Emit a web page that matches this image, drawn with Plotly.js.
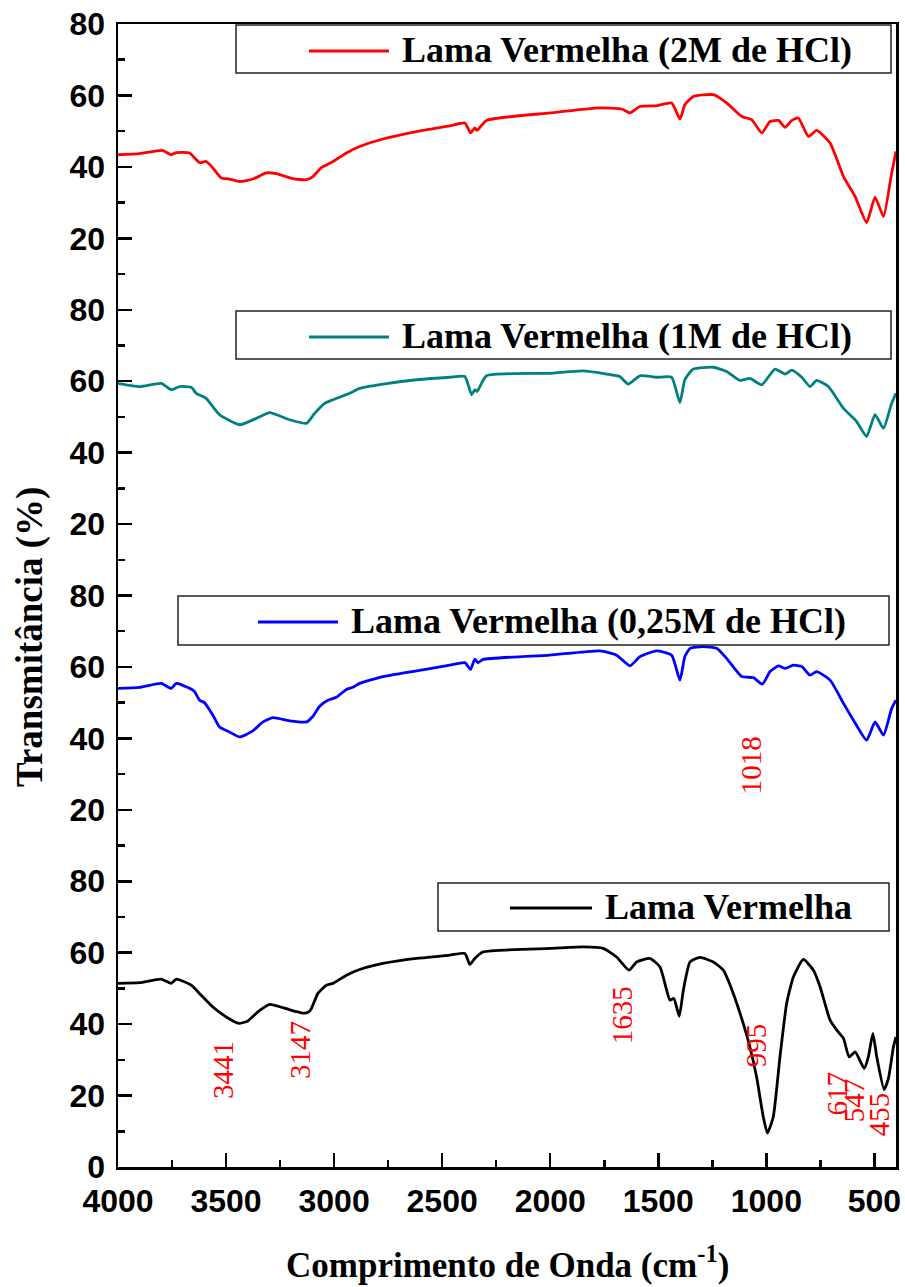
<!DOCTYPE html>
<html>
<head>
<meta charset="utf-8">
<script src="https://cdn.plot.ly/plotly-3.0.1.min.js"></script>
<style>
  html, body { margin: 0; padding: 0; background: #fff; }
  #chart { width: 905px; height: 1287px; }
</style>
</head>
<body>
<div id="chart"></div>
<script>
// FTIR spectra of red mud (lama vermelha), raw and acid-treated samples.
// Each spectrum is stacked on a shared transmittance axis with an 80 % step.

const seriesNames = [
  'Lama Vermelha (2M de HCl)',
  'Lama Vermelha (1M de HCl)',
  'Lama Vermelha (0,25M de HCl)',
  'Lama Vermelha'
];
const seriesColors = ['#FF0000', '#008080', '#0000FF', '#000000'];
const seriesOffsets = [240, 160, 80, 0];

// Lama Vermelha (2M de HCl)
const hcl2X = [4000,3900,3795,3754,3730,3669,3623,3592,3561,3522,3484,3437,3376,3314,3267,3191,3128,3098,3059,3005,2943,2882,2774,2619,2465,2395,2369,2349,2339,2295,2002,1770,1670,1631,1585,1508,1438,1400,1377,1338,1245,1184,1114,1068,1021,983,944,913,882,852,805,767,705,643,589,536,497,458,420,400];
const hcl2T = [43.4,43.7,44.6,43.4,44.0,43.9,41.2,41.5,39.7,36.9,36.6,35.9,36.6,38.3,38.1,36.7,36.4,37.3,39.8,41.5,43.9,45.7,47.8,49.9,51.5,52.3,49.5,50.9,50.2,53.0,55.1,56.5,56.2,55.1,56.9,57.1,57.9,53.4,57.4,59.7,60.2,57.9,54.1,53.2,49.5,52.7,53.0,51.1,53.0,53.7,48.5,50.2,46.7,37.3,31.7,24.4,31.5,26.1,38.3,44.3];

// Lama Vermelha (1M de HCl)
const hcl1X = [4000,3900,3800,3754,3715,3661,3638,3592,3530,3437,3360,3298,3206,3128,3090,3044,3005,2928,2882,2774,2619,2465,2395,2364,2349,2339,2295,2002,1848,1739,1678,1639,1585,1508,1438,1400,1377,1338,1245,1184,1122,1076,1021,960,913,882,836,798,767,713,643,582,536,497,458,420,400];
const hcl1T = [59.4,58.5,59.4,57.6,58.5,58.3,56.6,55.2,50.6,47.8,49.6,51.2,49.2,48.2,51.0,53.8,54.8,56.6,58.0,59.2,60.4,61.1,61.3,56.2,57.6,57.1,61.5,62.2,62.9,62.0,61.3,59.2,61.5,61.1,61.1,54.0,60.4,63.4,63.9,62.7,60.2,60.8,59.0,63.4,62.0,63.1,61.1,58.5,60.2,58.5,52.4,48.7,44.5,50.6,46.8,53.8,56.6];

// Lama Vermelha (0,25M de HCl)
const hcl025X = [4000,3900,3800,3754,3730,3669,3646,3623,3600,3561,3530,3484,3437,3376,3329,3283,3206,3128,3098,3067,3029,2990,2943,2913,2882,2774,2619,2465,2395,2369,2349,2334,2311,2002,1770,1693,1631,1585,1508,1438,1400,1377,1353,1292,1230,1184,1114,1060,1018,983,944,913,875,836,798,767,705,643,597,536,497,458,420,400];
const hcl025T = [54.0,54.3,55.4,54.0,55.4,54.0,53.1,50.7,50.0,46.5,43.2,41.8,40.4,42.1,44.6,45.8,44.9,44.6,46.2,49.0,50.7,51.5,53.7,54.3,55.4,57.3,58.9,60.5,61.2,59.3,62.2,61.2,62.1,63.3,64.5,63.3,60.3,62.9,64.5,63.3,56.3,62.9,65.2,65.7,65.2,62.4,57.3,57.0,55.2,58.7,60.3,59.6,60.5,60.1,57.7,58.7,56.3,49.8,45.1,39.5,44.6,40.9,48.4,50.7];

// Lama Vermelha (untreated)
const rawX = [4000,3900,3800,3754,3730,3661,3623,3561,3499,3441,3399,3353,3298,3237,3175,3147,3120,3105,3075,3036,3005,2943,2882,2774,2619,2465,2395,2372,2349,2312,2002,1848,1755,1693,1635,1600,1539,1492,1446,1428,1403,1384,1353,1307,1245,1199,1153,1107,1076,1045,1014,995,968,937,906,875,829,782,751,705,674,643,617,589,547,528,507,489,455,435,412,400];
const rawT = [51.4,51.6,52.6,51.4,52.6,50.9,48.6,44.8,42.0,40.2,40.9,43.4,45.5,44.6,43.5,43.1,43.3,44.4,48.6,50.9,51.4,53.7,55.3,57.0,58.4,59.3,59.8,56.7,58.4,60.2,61.2,61.6,61.2,58.8,55.1,57.4,58.4,56.0,46.7,47.2,42.2,49.5,57.4,58.7,57.4,55.1,48.6,40.2,33.6,25.2,14.0,9.5,14.0,30.8,45.8,53.2,58.1,55.1,50.4,41.1,38.3,36.0,30.8,32.2,27.6,30.8,37.4,30.8,21.7,24.8,33.6,36.4];

const seriesX = [hcl2X, hcl1X, hcl025X, rawX];
const seriesT = [hcl2T, hcl1T, hcl025T, rawT];

// Band assignments marked on the spectra
const bandWavenumbers = [3441, 3147, 1635, 995, 617, 547, 455, 1018];
const bandSeries = [3, 3, 3, 3, 3, 3, 3, 2];
// where each band label is written (wavenumber, transmittance in its panel)
const bandLabelX = [3511, 3159, 1668, 1048, 673, 594, 478, 1071];
const bandLabelT = [27.1, 32.7, 42.5, 34.1, 20.6, 18.7, 14.8, 32.5];

// Axis ticks
const xTickVals = [4000, 3500, 3000, 2500, 2000, 1500, 1000, 500];
const xTickText = ['4000', '3500', '3000', '2500', '2000', '1500', '1000', '500'];
const yTickVals = [0, 20, 40, 60, 80, 100, 120, 140, 160, 180, 200, 220, 240, 260, 280, 300, 320];
const yTickText = ['0', '20', '40', '60', '80', '20', '40', '60', '80', '20', '40', '60', '80', '20', '40', '60', '80'];

// ---- drawing ----
const W = 905, H = 1287;
const M = { l: 118, r: 9, t: 24, b: 120 };
const plotW = W - M.l - M.r, plotH = H - M.t - M.b;
const px2x = px => (px - M.l) / plotW;
const px2y = py => (H - M.b - py) / plotH;

const serif = 'Liberation Serif, Times New Roman, serif';
const sans = 'Liberation Sans, Arial, sans-serif';

const traces = seriesNames.map((name, i) => ({
  type: 'scatter',
  mode: 'lines',
  name: name,
  x: seriesX[i],
  y: seriesT[i].map(v => v + seriesOffsets[i]),
  line: { color: seriesColors[i], width: 2.8, shape: 'spline', smoothing: 0.5 },
  showlegend: false,
  hoverinfo: 'x+name'
}));

// Legend boxes, one per panel (pixel geometry)
const legendBoxes = [
  { x0: 236, x1: 891, y0: 25,  y1: 73,  lx0: 309, lx1: 389, ly: 51,  tx: 400 },
  { x0: 236, x1: 891, y0: 311, y1: 359, lx0: 309, lx1: 389, ly: 337, tx: 400 },
  { x0: 178, x1: 889, y0: 596, y1: 645, lx0: 258, lx1: 338, ly: 622, tx: 349 },
  { x0: 438, x1: 889, y0: 883, y1: 931, lx0: 510, lx1: 592, ly: 908, tx: 603 }
];

const shapes = [];
const annotations = [];
legendBoxes.forEach((b, i) => {
  shapes.push({
    type: 'rect', xref: 'paper', yref: 'paper',
    x0: px2x(b.x0), x1: px2x(b.x1), y0: px2y(b.y1), y1: px2y(b.y0),
    line: { color: '#222', width: 1.5 }, fillcolor: 'rgba(0,0,0,0)'
  });
  shapes.push({
    type: 'line', xref: 'paper', yref: 'paper',
    x0: px2x(b.lx0), x1: px2x(b.lx1), y0: px2y(b.ly), y1: px2y(b.ly),
    line: { color: seriesColors[i], width: 2.8 }
  });
  annotations.push({
    xref: 'paper', yref: 'paper', x: px2x(b.tx), y: px2y(b.ly - 1),
    xanchor: 'left', yanchor: 'middle', showarrow: false,
    text: seriesNames[i],
    font: { family: serif, size: 36, weight: 'bold', color: '#000' }
  });
});

bandWavenumbers.forEach((wn, i) => {
  annotations.push({
    xref: 'x', yref: 'y',
    x: bandLabelX[i], y: bandLabelT[i] + seriesOffsets[bandSeries[i]],
    text: String(wn), textangle: -90, showarrow: false,
    xanchor: 'center', yanchor: 'middle',
    font: { family: serif, size: 29, color: '#FF0000' }
  });
});

// Axis titles
annotations.push({
  xref: 'paper', yref: 'paper', x: px2x(30), y: px2y(637),
  text: 'Transmitância (%)', textangle: -90, showarrow: false,
  xanchor: 'center', yanchor: 'middle',
  font: { family: serif, size: 37, weight: 'bold', color: '#000' }
});
annotations.push({
  xref: 'paper', yref: 'paper', x: px2x(508), y: px2y(1262),
  text: 'Comprimento de Onda (cm<sup>-1</sup>)', showarrow: false,
  xanchor: 'center', yanchor: 'middle',
  font: { family: serif, size: 35, weight: 'bold', color: '#000' }
});

const axisCommon = {
  showgrid: false, zeroline: false,
  showline: true, linecolor: '#000', linewidth: 2.5, mirror: true,
  ticks: 'inside', ticklen: 14, tickwidth: 2.5, tickcolor: '#000',
  tickmode: 'array',
  tickfont: { family: sans, size: 32, weight: 'bold', color: '#000' }
};

const layout = {
  width: W, height: H,
  margin: M,
  paper_bgcolor: '#fff', plot_bgcolor: '#fff',
  showlegend: false,
  xaxis: Object.assign({}, axisCommon, {
    range: [4000, 400],
    tickvals: xTickVals, ticktext: xTickText,
    ticklabelstandoff: 4,
    minor: { tickmode: 'linear', tick0: 0, dtick: 250, ticks: 'inside', ticklen: 7, tickwidth: 2.5, tickcolor: '#000', showgrid: false }
  }),
  yaxis: Object.assign({}, axisCommon, {
    range: [0, 320],
    tickvals: yTickVals, ticktext: yTickText,
    ticklabelstandoff: 4,
    minor: { tickmode: 'linear', tick0: 0, dtick: 10, ticks: 'inside', ticklen: 7, tickwidth: 2.5, tickcolor: '#000', showgrid: false }
  }),
  shapes: shapes,
  annotations: annotations
};

Plotly.newPlot('chart', traces, layout, { staticPlot: true, displayModeBar: false });
</script>
</body>
</html>
